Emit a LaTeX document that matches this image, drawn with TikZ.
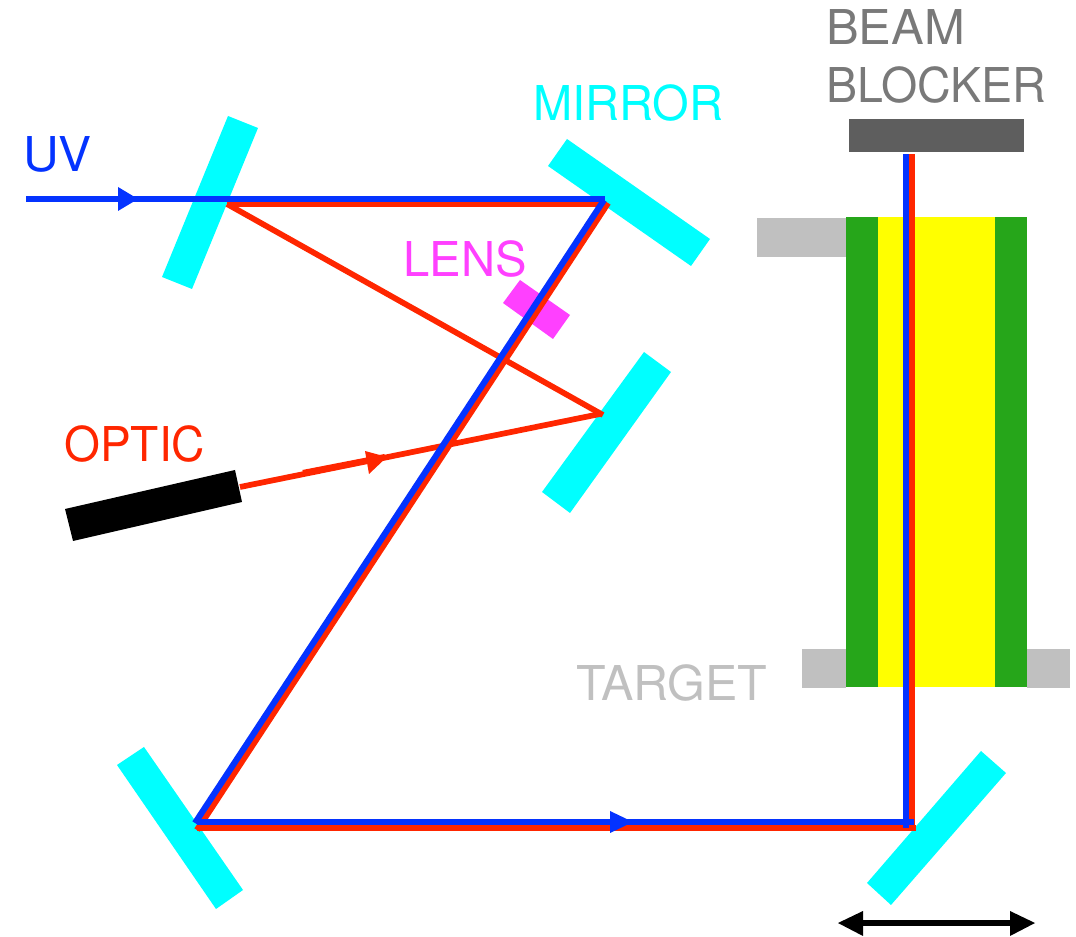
\documentclass[tikz,border=0pt]{standalone}
\usepackage{fontspec}
\usepackage{graphicx}
\setmainfont{TeX Gyre Heros}
\definecolor{cyanm}{HTML}{00FFFF}
\definecolor{uvblue}{HTML}{0433FF}
\definecolor{optred}{HTML}{FF2600}
\definecolor{lensm}{HTML}{FF40FF}
\definecolor{tgreen}{HTML}{26A61A}
\definecolor{tyellow}{HTML}{FFFF00}
\definecolor{lgrey}{HTML}{C0C0C0}
\definecolor{dgrey}{HTML}{5E5E5E}
\definecolor{tgrey}{HTML}{797979}
\tikzset{
  mirrorshape/.style={fill=cyanm},
  beamuv/.style={draw=uvblue,line width=4.6pt},
  beamred/.style={draw=optred,line width=4.6pt},
  beamthin/.style={draw=optred,line width=4.3pt},
  lbl/.style={anchor=base west,inner sep=0pt,font=\fontsize{36}{36}\selectfont},
  headuv/.style={fill=uvblue},
  headred/.style={fill=optred}
}
\begin{document}
\begin{tikzpicture}[x=0.75pt,y=-0.75pt]
\useasboundingbox (0,0) rectangle (1076,937);
% target
\fill[lgrey] (757,218) rectangle (846,257);
\fill[lgrey] (802,649) rectangle (846,688);
\fill[lgrey] (1027,649) rectangle (1070,688);
\fill[tgreen] (846,217) rectangle (1027,687);
\fill[tyellow] (878,217) rectangle (995,687);
% beam blocker
\fill[dgrey] (849,119) rectangle (1024,152);
% mirrors
\fill[mirrorshape] (228,116) -- (258,128) -- (192,289) -- (162,277) -- cycle;
\fill[mirrorshape] (567,139) -- (710,239) -- (691,266) -- (548,166) -- cycle;
\fill[mirrorshape] (644,352) -- (671,372) -- (570,513) -- (542,492) -- cycle;
\fill[mirrorshape] (144,747) -- (117,765) -- (216,909) -- (243,890) -- cycle;
\fill[mirrorshape] (981,751) -- (1006,773) -- (891,905) -- (867,883) -- cycle;
% lens
\fill[lensm] (520,280) -- (570,315) -- (553,339) -- (503,303) -- cycle;
% laser
\fill[black] (235,470) -- (242,502) -- (73,541) -- (65,509) -- cycle;
% beam points
\coordinate (uvstart) at (26,199);
\coordinate (uvm2) at (605,199);
\coordinate (uvm2d) at (604,200);
\coordinate (uvm4) at (195,823);
\coordinate (uvm4h) at (197,822);
\coordinate (uvm5) at (914,822);
\coordinate (uvm5v) at (906,828);
\coordinate (uvend) at (906,154);
\coordinate (rs) at (227,204);
\coordinate (rm2) at (606,204);
\coordinate (rm2d) at (608,203);
\coordinate (rm4) at (197,830);
\coordinate (rm4h) at (197,828);
\coordinate (rm5) at (916,828);
\coordinate (rm5v) at (912,828);
\coordinate (rend) at (912,154);
\coordinate (rm3) at (603,415);
\coordinate (rm3b) at (600,414);
\coordinate (laser) at (240,487);
\coordinate (thicka) at (303,473);
\coordinate (thickb) at (385,457);
% red beams
\draw[beamthin] (laser) -- (rm3b);
\draw[beamred] (thicka) -- (thickb);
\draw[beamthin] (rs) -- (rm3);
\draw[beamred] (rs) -- (rm2);
\draw[beamred] (rm2d) -- (rm4);
\draw[beamred] (rm4h) -- (rm5);
\draw[beamred] (rm5v) -- (rend);
\fill[headred] (387,457) -- (365,451) -- (369,474) -- cycle;
% blue beams
\draw[beamuv] (uvstart) -- (uvm2);
\draw[beamuv] (uvm2d) -- (uvm4);
\draw[beamuv] (uvm4h) -- (uvm5);
\draw[beamuv] (uvm5v) -- (uvend);
\fill[headuv] (138,199) -- (118,187) -- (118,211) -- cycle;
\fill[headuv] (633,822) -- (610,811) -- (610,833) -- cycle;
% translation arrow
\coordinate (dl) at (860,923);
\coordinate (dr) at (1012,923);
\draw[black,line width=4.5pt] (dl) -- (dr);
\fill[black] (838,923) -- (863,911) -- (863,936) -- cycle;
\fill[black] (1035,923) -- (1010,911) -- (1010,936) -- cycle;
% labels
\node[lbl,text=uvblue] (uv) at (23,172) {\scalebox{1.03}[1]{UV}};
\node[lbl,text=optred] (optic) at (64,462) {\scalebox{0.96}[1]{OPTIC}};
\node[lbl,text=lensm] (lens) at (403,277) {\scalebox{0.985}[1]{LENS}};
\node[lbl,text=cyanm] (mirror) at (533,121) {\scalebox{0.98}[1]{MIRROR}};
\node[lbl,text=tgrey] (beam) at (826,45) {\scalebox{1.02}[1]{BEAM}};
\node[lbl,text=tgrey] (blocker) at (826,103) {\scalebox{0.97}[1]{BLOCKER}};
\node[lbl,text=lgrey] (target) at (576,701) {\scalebox{1.01}[1]{TARGET}};
\end{tikzpicture}
\end{document}
